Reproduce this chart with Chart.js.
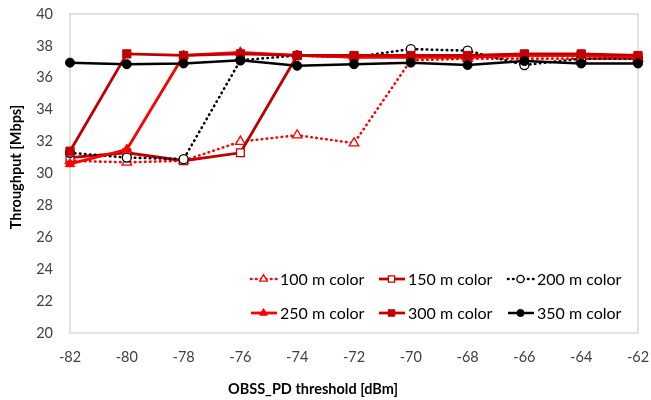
<!DOCTYPE html>
<html>
<head>
<meta charset="utf-8">
<script src="https://cdn.jsdelivr.net/npm/chart.js@4/dist/chart.umd.min.js"></script>
<style>
html,body{margin:0;padding:0;background:#fff;}
#wrap{width:651px;height:400px;position:relative;}
</style>
</head>
<body>
<div id="wrap"><canvas id="c" width="651" height="400"></canvas></div>
<script>
const xLabels = ['-82','-80','-78','-76','-74','-72','-70','-68','-66','-64','-62'];
const yTicks = [20,22,24,26,28,30,32,34,36,38,40];
const seriesNames = ['100 m color','150 m color','200 m color','250 m color','300 m color','350 m color'];
const s100 = [30.8, 30.7, 30.8, 32.0, 32.4, 31.9, 37.1, 37.2, 37.2, 37.2, 37.2];
const s150 = [31.0, 31.3, 30.8, 31.3, 37.4, 37.3, 37.3, 37.3, 37.4, 37.4, 37.3];
const s200 = [31.3, 31.0, 30.9, 37.1, 37.4, 37.3, 37.8, 37.7, 36.8, 37.2, 37.2];
const s250 = [30.6, 31.5, 37.4, 37.6, 37.4, 37.3, 37.3, 37.3, 37.4, 37.4, 37.3];
const s300 = [31.4, 37.5, 37.4, 37.5, 37.4, 37.4, 37.4, 37.4, 37.5, 37.5, 37.4];
const s350 = [36.95, 36.85, 36.9, 37.1, 36.75, 36.85, 36.95, 36.8, 37.05, 36.9, 36.9];
const xTitle = 'OBSS_PD threshold [dBm]';
const yTitle = 'Throughput [Mbps]';

const RED = '#FF0000', DRED = '#C00000', BLK = '#000000';

function ds(label, data, color, style, radius, filled, dash, width, order){
  return {
    label, data, borderColor: color, backgroundColor: filled ? color : '#FFFFFF',
    pointBackgroundColor: filled ? color : '#FFFFFF', pointBorderColor: color,
    pointStyle: style, pointRadius: radius, pointBorderWidth: filled ? 1 : 1.3,
    borderWidth: width, borderDash: dash, borderCapStyle: dash.length ? 'round' : 'butt',
    tension: 0, fill: false, order, clip: false
  };
}

const datasets = [
  ds(seriesNames[0], s100, RED, 'triangle', 5.5, false, [0.5,4.5], 2.6, 5),
  ds(seriesNames[1], s150, DRED, 'rect', 5.5, false, [], 2.8, 4),
  ds(seriesNames[2], s200, BLK, 'circle', 4.5, false, [0.5,4.5], 2.6, 3),
  ds(seriesNames[3], s250, RED, 'triangle', 5.5, true, [], 2.8, 2),
  ds(seriesNames[4], s300, DRED, 'rect', 5.8, true, [], 2.8, 1),
  ds(seriesNames[5], s350, BLK, 'circle', 4.5, true, [], 2.5, 0)
];

function marker(ctx, style, x, y, r, fill, stroke, bw){
  ctx.save();
  ctx.beginPath();
  if (style === 'circle') { ctx.arc(x, y, r, 0, Math.PI*2); }
  else if (style === 'rect') { const s = Math.SQRT1_2*r; ctx.rect(x-s, y-s, 2*s, 2*s); }
  else if (style === 'triangle') {
    ctx.moveTo(x, y - r);
    ctx.lineTo(x + Math.sin(Math.PI*2/3)*r, y - Math.cos(Math.PI*2/3)*r);
    ctx.lineTo(x + Math.sin(Math.PI*4/3)*r, y - Math.cos(Math.PI*4/3)*r);
    ctx.closePath();
  }
  ctx.fillStyle = fill; ctx.fill();
  ctx.lineWidth = bw; ctx.strokeStyle = stroke; ctx.setLineDash([]); ctx.stroke();
  ctx.restore();
}

const framePlugin = {
  id: 'frame',
  beforeDatasetsDraw(chart){
    const a = chart.chartArea, ctx = chart.ctx;
    ctx.save();
    ctx.strokeStyle = '#D9D9D9'; ctx.lineWidth = 1.5;
    ctx.strokeRect(a.left, a.top, a.right - a.left, a.bottom - a.top);
    ctx.restore();
  },
  afterDraw(chart){
    const ctx = chart.ctx;
    ctx.save();
    ctx.fillStyle = '#000000';
    ctx.font = 'bold 14.5px Lato';
    ctx.textAlign = 'center'; ctx.textBaseline = 'middle';
    ctx.fillText(xTitle, 313, 389);
    ctx.translate(16, 167);
    ctx.rotate(-Math.PI/2);
    ctx.fillText(yTitle, 0, 0);
    ctx.restore();
    ctx.save();
    const colX = [250, 378, 507];
    const rowY = [279, 313];
    ctx.font = '16px Lato';
    ctx.textAlign = 'left'; ctx.textBaseline = 'middle';
    chart.data.datasets.forEach((d, i) => {
      const cx = colX[i % 3], cy = rowY[Math.floor(i / 3)];
      ctx.save();
      ctx.strokeStyle = d.borderColor; ctx.lineWidth = d.borderWidth;
      ctx.setLineDash(d.borderDash || []);
      ctx.lineCap = d.borderCapStyle;
      ctx.beginPath(); ctx.moveTo(cx + 1, cy); ctx.lineTo(cx + 27, cy); ctx.stroke();
      ctx.restore();
      marker(ctx, d.pointStyle, cx + 13.5, cy, d.pointRadius * 0.8, d.pointBackgroundColor, d.pointBorderColor, d.pointBorderWidth);
      ctx.fillStyle = '#000000';
      ctx.fillText(d.label, cx + 30, cy + 1);
    });
    ctx.restore();
  }
};

new Chart(document.getElementById('c'), {
  type: 'line',
  data: { labels: xLabels, datasets },
  options: {
    responsive: false,
    animation: false,
    devicePixelRatio: 1,
    layout: { autoPadding: false, padding: { left: 0, right: 13, top: 14, bottom: 0 } },
    plugins: { legend: { display: false }, tooltip: { enabled: false } },
    scales: {
      x: {
        type: 'category', offset: false,
        grid: { display: false, drawTicks: false },
        border: { display: false },
        ticks: { color: '#404040', font: { family: 'Lato', size: 14.5 }, padding: 16, maxRotation: 0, autoSkip: false },
        afterFit(s){ s.height = 67; s.paddingLeft = 0; s.paddingRight = 0; }
      },
      y: {
        min: 20, max: 40,
        afterBuildTicks(s){ s.ticks = yTicks.map(v => ({ value: v })); },
        grid: { display: false, drawTicks: false },
        border: { display: false },
        ticks: { color: '#404040', font: { family: 'Lato', size: 14.5 }, padding: 17 },
        afterFit(s){ s.width = 70; s.paddingTop = 0; s.paddingBottom = 0; }
      }
    }
  },
  plugins: [framePlugin]
});
</script>
</body>
</html>
